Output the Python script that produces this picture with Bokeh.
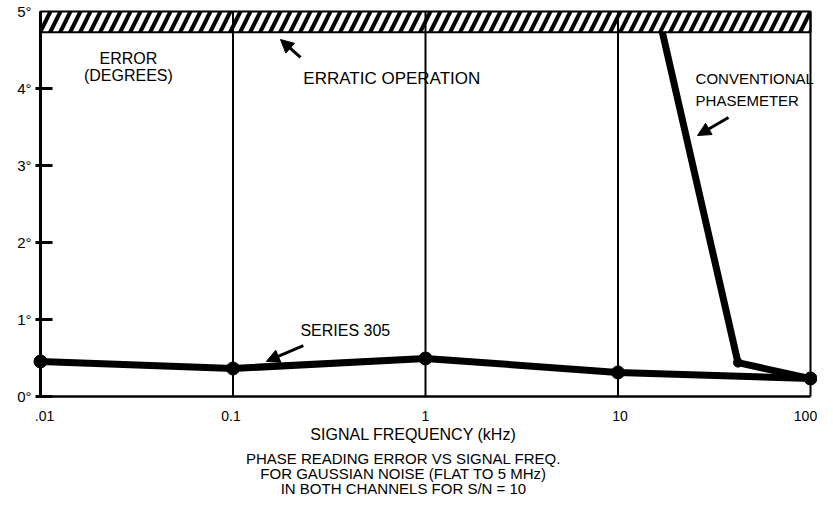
from bokeh.plotting import figure
from bokeh.models import Range1d, Label, Arrow, NormalHead
from bokeh.core.properties import value
from bokeh.embed import file_html
from bokeh.resources import INLINE

# ---- data ----
decades = [0.01, 0.1, 1, 10, 100]
decade_labels = [".01", "0.1", "1", "10", "100"]
deg_ticks = [0, 1, 2, 3, 4, 5]
deg_labels = ["0°", "1°", "2°", "3°", "4°", "5°"]

series305_freq = [0.01, 0.1, 1, 10, 100]
series305_err = [0.455, 0.364, 0.494, 0.312, 0.234]

phasemeter_freq = [17, 42, 100]
phasemeter_err = [4.73, 0.44, 0.23]

erratic_low, erratic_high = 4.73, 5.0

FONT = "Liberation Sans"
PX_PER_DECADE = 192.5


def shift(x, px):
    """move a log-x position by a number of screen pixels"""
    return x * 10 ** (px / PX_PER_DECADE)


p = figure(width=817, height=498, x_axis_type="log",
           x_axis_location=None, y_axis_location=None,
           x_range=Range1d(shift(decades[0], -40), shift(decades[0], 777)),
           y_range=Range1d(-1.3247, 5.1429),
           output_backend="svg", toolbar_location=None,
           min_border_left=0, min_border_right=0, min_border_top=0,
           min_border_bottom=0)
p.outline_line_color = None
p.background_fill_color = "white"
p.border_fill_color = "white"
p.xgrid.visible = False
p.ygrid.visible = False

ymin, ymax = deg_ticks[0], deg_ticks[-1]

# erratic operation band
p.quad(left=[decades[0]], right=[decades[-1]], bottom=[erratic_low], top=[erratic_high],
       fill_color="white", hatch_pattern="/", hatch_color="black",
       hatch_scale=20, hatch_weight=4, line_color="black", line_width=2)

# vertical decade lines and frame
p.segment(x0=decades, y0=[ymin] * len(decades), x1=decades,
          y1=[ymax] * len(decades), line_color="black", line_width=2)
p.segment(x0=[decades[0]], y0=[ymin], x1=[decades[0]], y1=[ymax],
          line_color="black", line_width=3)
p.segment(x0=[decades[0]], y0=[ymin], x1=[decades[-1]], y1=[ymin],
          line_color="black", line_width=2.5)

# y ticks and labels
p.segment(x0=[shift(decades[0], -5)] * (len(deg_ticks) - 1), y0=deg_ticks[:-1],
          x1=[shift(decades[0], 12)] * (len(deg_ticks) - 1), y1=deg_ticks[:-1],
          line_color="black", line_width=3)
p.text(x=[decades[0]] * len(deg_ticks), y=deg_ticks, text=deg_labels,
       text_align="right", text_baseline="middle", x_offset=-9,
       text_font=value(FONT), text_font_size="15px", text_color="black")

# x tick labels
p.text(x=decades, y=[-0.247] * len(decades), text=decade_labels,
       text_align="center", text_baseline="middle", x_offset=[4, -2, 0, 2, -5],
       text_font=value(FONT), text_font_size="14px", text_color="black")

# curves
p.line(series305_freq, series305_err, line_color="black", line_width=7, line_join="round")
p.scatter(series305_freq, series305_err, size=13, color="black")
p.line(phasemeter_freq, phasemeter_err, line_color="black", line_width=7, line_join="round")
p.scatter(phasemeter_freq[1:], phasemeter_err[1:], size=9, color="black")


def lab(text, x, y, align="center", size="15px"):
    p.add_layout(Label(x=x, y=y, text=text, text_align=align, text_baseline="middle",
                       text_font=FONT, text_font_size=size, text_color="black"))


lab("ERROR", 0.0286, 4.39, size="16px")
lab("(DEGREES)", 0.0286, 4.17, size="16px")
lab("ERRATIC OPERATION", 0.232, 4.136, align="left", size="17px")
lab("CONVENTIONAL", 25.3, 4.13, align="left")
lab("PHASEMETER", 25.3, 3.844, align="left")
lab("SERIES 305", 0.224, 0.857, align="left", size="16px")

lab("SIGNAL FREQUENCY (kHz)", 0.866, -0.494, size="16px")
lab("PHASE READING ERROR VS SIGNAL FREQ.", 0.768, -0.805)
lab("FOR GAUSSIAN NOISE (FLAT TO 5 MHz)", 0.768, -1.0)
lab("IN BOTH CHANNELS FOR S/N = 10", 0.768, -1.195)


def arrow(x0, y0, x1, y1):
    p.add_layout(Arrow(end=NormalHead(size=13, fill_color="black", line_color="black"),
                       x_start=x0, y_start=y0, x_end=x1, y_end=y1,
                       line_color="black", line_width=3))


arrow(0.2242, 4.403, 0.1765, 4.636)
arrow(37.5, 3.623, 25.9, 3.390)
arrow(0.232, 0.662, 0.149, 0.455)

open("out.html", "w").write(file_html(p, INLINE))
